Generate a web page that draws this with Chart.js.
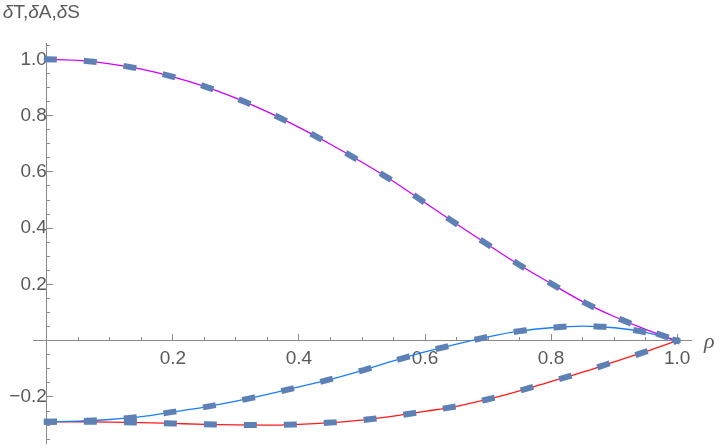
<!DOCTYPE html>
<html>
<head>
<meta charset="utf-8">
<script src="https://cdn.jsdelivr.net/npm/chart.js@4.4.1/dist/chart.umd.min.js"></script>
<style>
  html, body { margin: 0; padding: 0; background: #fff; }
  #wrap { width: 720px; height: 448px; }
</style>
</head>
<body>
<div id="wrap"><canvas id="plot"></canvas></div>
<script>
// values
const rho    = [0, 0.05, 0.1, 0.15, 0.2, 0.25, 0.3, 0.35, 0.4, 0.45, 0.5, 0.55, 0.6, 0.65, 0.7, 0.75, 0.8, 0.85, 0.9, 0.95, 1.0];
const deltaT = [1.0, 0.996, 0.984, 0.965, 0.938, 0.904, 0.862, 0.813, 0.758, 0.698, 0.634, 0.566, 0.490, 0.415, 0.341, 0.269, 0.203, 0.139, 0.086, 0.040, 0];
const deltaA = [-0.288, -0.286, -0.280, -0.270, -0.253, -0.236, -0.215, -0.191, -0.164, -0.137, -0.106, -0.072, -0.040, -0.012, 0.014, 0.034, 0.046, 0.052, 0.046, 0.030, 0];
const deltaS = [-0.288, -0.288, -0.289, -0.291, -0.294, -0.297, -0.299, -0.300, -0.297, -0.291, -0.282, -0.268, -0.251, -0.233, -0.208, -0.178, -0.145, -0.112, -0.075, -0.039, 0];

const xMajor = [0.2, 0.4, 0.6, 0.8, 1.0];
const xMinor = [0.05, 0.1, 0.15, 0.25, 0.3, 0.35, 0.45, 0.5, 0.55, 0.65, 0.7, 0.75, 0.85, 0.9, 0.95];
const yMajor = [-0.2, 0.2, 0.4, 0.6, 0.8, 1.0];
const yMinor = [-0.35, -0.3, -0.25, -0.15, -0.1, -0.05, 0.05, 0.1, 0.15, 0.25, 0.3, 0.35, 0.45, 0.5, 0.55, 0.65, 0.7, 0.75, 0.85, 0.9, 0.95, 1.05];

const axisColor = '#8a8a8a';
const textColor = '#5a5a5a';
const dashColor = '#5e81b5';
const tickFont = { family: '"Liberation Sans", Arial, sans-serif', size: 19 };

function pts(ys){ return rho.map((r, i) => ({ x: r, y: ys[i] })); }
function fixedTicks(vals){ return s => { s.ticks = vals.map(v => ({ value: v })); }; }
function fmt(v){ return v.toFixed(1).replace('-', '\u2212'); }
// axes sit on the zero lines, so they must not eat layout space
function noSpace(s){
  if (s.isHorizontal()) s.height = 0; else s.width = 0;
  s.paddingTop = s.paddingBottom = s.paddingLeft = s.paddingRight = 0;
}

function thin(ys, color){
  return { data: pts(ys), borderColor: color, borderWidth: 1.3, pointRadius: 0,
           cubicInterpolationMode: 'monotone', order: 1 };
}
function dashed(ys){
  return { data: pts(ys), borderColor: dashColor, borderWidth: 6, pointRadius: 0,
           borderDash: [7, 33], borderCapStyle: 'square',
           cubicInterpolationMode: 'monotone', order: 0 };
}

// axis names, Mathematica style
const axisNames = {
  id: 'axisNames',
  afterDraw(chart){
    const { ctx, chartArea, scales } = chart;
    const x0 = scales.x.getPixelForValue(0);
    const y0 = scales.y.getPixelForValue(0);
    ctx.save();
    ctx.fillStyle = textColor;
    ctx.textBaseline = 'alphabetic';
    let cx = x0 - 44;
    const base = chartArea.top - 25;
    const parts = [['δ', true], ['T,', false], ['δ', true], ['A,', false], ['δ', true], ['S', false]];
    parts.forEach(([t, it]) => {
      ctx.font = (it ? 'italic ' : '') + '19px "Liberation Sans", Arial, sans-serif';
      ctx.fillText(t, cx, base);
      cx += ctx.measureText(t).width;
    });
    ctx.font = 'italic 22px "Liberation Serif", "DejaVu Serif", serif';
    ctx.fillText('ρ', chartArea.right + 13, y0 + 7);
    ctx.restore();
  }
};

new Chart(document.getElementById('plot'), {
  type: 'line',
  data: {
    datasets: [
      dashed(deltaT), dashed(deltaA), dashed(deltaS),
      thin(deltaT, '#cc00ff'), thin(deltaA, '#1a7dff'), thin(deltaS, '#ff1a1a')
    ]
  },
  options: {
    responsive: true,
    maintainAspectRatio: false,
    animation: false,
    events: [],
    layout: { padding: { left: 33, right: 29, top: 43, bottom: 5 } },
    plugins: { legend: { display: false }, tooltip: { enabled: false } },
    scales: {
      x: {
        type: 'linear', min: -0.022, max: 1.022, position: { y: 0 },
        afterBuildTicks: fixedTicks(xMajor),
        afterFit: noSpace,
        grid: { drawOnChartArea: false, tickLength: -7, color: axisColor },
        border: { color: axisColor, width: 1 },
        ticks: { autoSkip: false, maxRotation: 0, padding: 14, color: textColor, font: tickFont, callback: fmt }
      },
      x2: {
        type: 'linear', min: -0.022, max: 1.022, position: { y: 0 },
        afterBuildTicks: fixedTicks(xMinor),
        afterFit: noSpace,
        grid: { drawOnChartArea: false, tickLength: -4, color: axisColor },
        border: { color: axisColor, width: 1 },
        ticks: { display: false }
      },
      y: {
        type: 'linear', min: -0.3635, max: 1.058, position: { x: 0 },
        afterBuildTicks: fixedTicks(yMajor),
        afterFit: noSpace,
        grid: { drawOnChartArea: false, tickLength: -7, color: axisColor },
        border: { color: axisColor, width: 1 },
        ticks: { autoSkip: false, padding: 8, color: textColor, font: tickFont, callback: fmt }
      },
      y2: {
        type: 'linear', min: -0.3635, max: 1.058, position: { x: 0 },
        afterBuildTicks: fixedTicks(yMinor),
        afterFit: noSpace,
        grid: { drawOnChartArea: false, tickLength: -4, color: axisColor },
        border: { color: axisColor, width: 1 },
        ticks: { display: false }
      }
    }
  },
  plugins: [axisNames]
});
</script>
</body>
</html>
